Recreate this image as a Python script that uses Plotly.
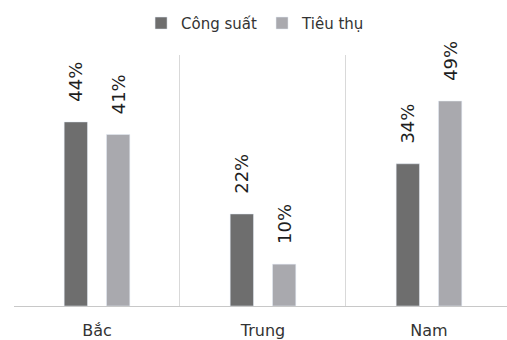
import plotly.graph_objects as go

categories = ["Bắc", "Trung", "Nam"]
cong_suat = [44, 22, 34]
tieu_thu = [41, 10, 49]
series_names = ["Công suất", "Tiêu thụ"]

FONT = "DejaVu Sans"
dark = "#6e6e6e"
light = "#a9a9ae"

def labels(vals):
    return ["&nbsp;&nbsp;&nbsp;%d%%" % v for v in vals]

fig = go.Figure()
for name, vals, col in [(series_names[0], cong_suat, dark), (series_names[1], tieu_thu, light)]:
    fig.add_trace(go.Bar(x=categories, y=vals, name=name, marker_color=col,
                         text=labels(vals), textposition="outside", textangle=-90,
                         constraintext="none",
                         textfont=dict(family=FONT, size=18, color="#1e1e1e"), cliponaxis=False))

fig.update_layout(
    width=507, height=340,
    margin=dict(l=14, r=0, t=55, b=34),
    paper_bgcolor="white", plot_bgcolor="white",
    barmode="group", bargap=0.49, bargroupgap=0.45,
    font=dict(family=FONT, size=16, color="#333"),
    legend=dict(orientation="h", x=0.49, xanchor="center", y=0.98, yanchor="top",
                yref="container", font=dict(family=FONT, size=15, color="#333"),
                itemwidth=30, tracegroupgap=0),
    showlegend=True,
)
fig.update_xaxes(range=[-0.5, 2.47], tickson="boundaries", showgrid=True, gridcolor="#d9d9d9",
                 gridwidth=1, ticks="", showline=True, linecolor="#c8c8c8", linewidth=1,
                 ticklabelstandoff=10,
                 tickfont=dict(family=FONT, size=16, color="#333"))
fig.update_yaxes(range=[0, 60], showgrid=False, showticklabels=False, zeroline=False, showline=False)

fig.write_html("out.html")
